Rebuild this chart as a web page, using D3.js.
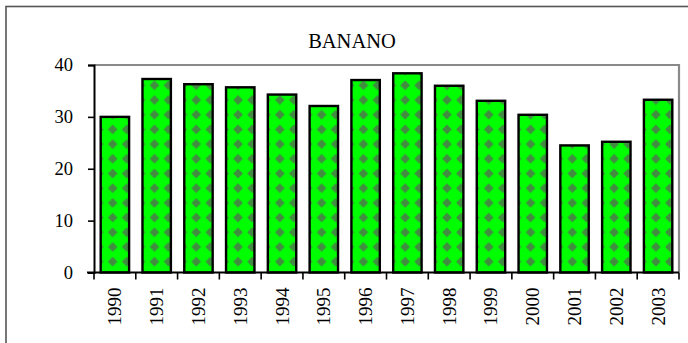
<!DOCTYPE html>
<html>
<head>
<meta charset="utf-8">
<script src="https://cdn.jsdelivr.net/npm/d3@7"></script>
<style>
  html, body { margin: 0; padding: 0; background: #fff; }
  svg { display: block; }
</style>
</head>
<body>
<svg id="chart" width="688" height="343"></svg>
<script>
const title = "BANANO";
const years = ["1990","1991","1992","1993","1994","1995","1996","1997","1998","1999","2000","2001","2002","2003"];
const values = [30.0, 37.3, 36.3, 35.7, 34.3, 32.1, 37.1, 38.4, 36.0, 33.1, 30.4, 24.5, 25.2, 33.3];
const yTicks = [0, 10, 20, 30, 40];

const FONT = "'Liberation Serif', 'DejaVu Serif'";
const plot = { left: 94, right: 679, top: 65, bottom: 272.5 };

const svg = d3.select("#chart");

// outer chart border (extends beyond picture edges on right/bottom)
svg.append("rect")
  .attr("x", 6).attr("y", 6.5)
  .attr("width", 720).attr("height", 360)
  .attr("fill", "#fff").attr("stroke", "#555").attr("stroke-width", 1.6);

const x = d3.scaleBand().domain(years)
  .range([plot.left, plot.right]).paddingInner(0.32).paddingOuter(0.16);
const y = d3.scaleLinear().domain([0, 40]).range([plot.bottom, plot.top]);

// title
svg.append("text")
  .attr("x", 352).attr("y", 48)
  .attr("text-anchor", "middle")
  .attr("font-family", FONT)
  .attr("font-size", 20.5)
  .attr("fill", "#000")
  .text(title);

// plot area gray border (top and right)
svg.append("path")
  .attr("d", `M${plot.left},${y(40)}H${plot.right}V${y(0)}`)
  .attr("fill", "none").attr("stroke", "#8a8a8a").attr("stroke-width", 2.2);

// patterns per bar
const defs = svg.append("defs");
const pw = 14, ph = 14.7;
years.forEach((yr, i) => {
  const p = defs.append("pattern")
    .attr("id", "pat" + i)
    .attr("patternUnits", "userSpaceOnUse")
    .attr("x", x(yr) + 5)
    .attr("y", y(0) - 10.8 - ph / 2)
    .attr("width", pw).attr("height", ph);
  p.append("rect").attr("width", pw).attr("height", ph).attr("fill", "#00ff00");
  const cx = pw / 2, cy = ph / 2, r = 4.8;
  p.append("path")
    .attr("d", `M${cx},${cy - r}L${cx + r},${cy}L${cx},${cy + r}L${cx - r},${cy}Z`)
    .attr("fill", "#428c42");
});

// bars
svg.append("g").selectAll("rect")
  .data(values)
  .join("rect")
  .attr("x", (d, i) => x(years[i]))
  .attr("y", d => y(d))
  .attr("width", x.bandwidth())
  .attr("height", d => y(0) - y(d))
  .attr("fill", (d, i) => `url(#pat${i})`)
  .attr("stroke", "#000")
  .attr("stroke-width", 2.4);

// y axis
const yAxis = svg.append("g")
  .attr("transform", `translate(${plot.left},0)`)
  .call(d3.axisLeft(y).tickValues(yTicks).tickSize(6).tickPadding(15).tickFormat(d3.format("d")))
  .attr("font-family", FONT)
  .attr("font-size", 18.5);
yAxis.select(".domain").attr("stroke", "#000").attr("stroke-width", 2);
yAxis.selectAll(".tick line").attr("stroke", "#000").attr("stroke-width", 1.6);
yAxis.selectAll(".tick text").attr("fill", "#000");

// x axis: ticks at category boundaries
const xg = svg.append("g").attr("transform", `translate(0,${plot.bottom})`)
  .attr("font-family", FONT).attr("font-size", 19);
xg.append("line")
  .attr("x1", plot.left - 7).attr("x2", plot.right)
  .attr("stroke", "#000").attr("stroke-width", 2);
const step = x.step();
const bounds = d3.range(years.length + 1).map(i => plot.left + i * step);
xg.selectAll("line.tk").data(bounds).join("line")
  .attr("class", "tk")
  .attr("x1", d => d).attr("x2", d => d)
  .attr("y1", 0).attr("y2", 7)
  .attr("stroke", "#000").attr("stroke-width", 1.6);
xg.selectAll("text").data(years).join("text")
  .attr("transform", d => `translate(${x(d) + x.bandwidth() / 2 + 6.5},15) rotate(-90)`)
  .attr("text-anchor", "end")
  .attr("fill", "#000")
  .text(d => d);
</script>
</body>
</html>
